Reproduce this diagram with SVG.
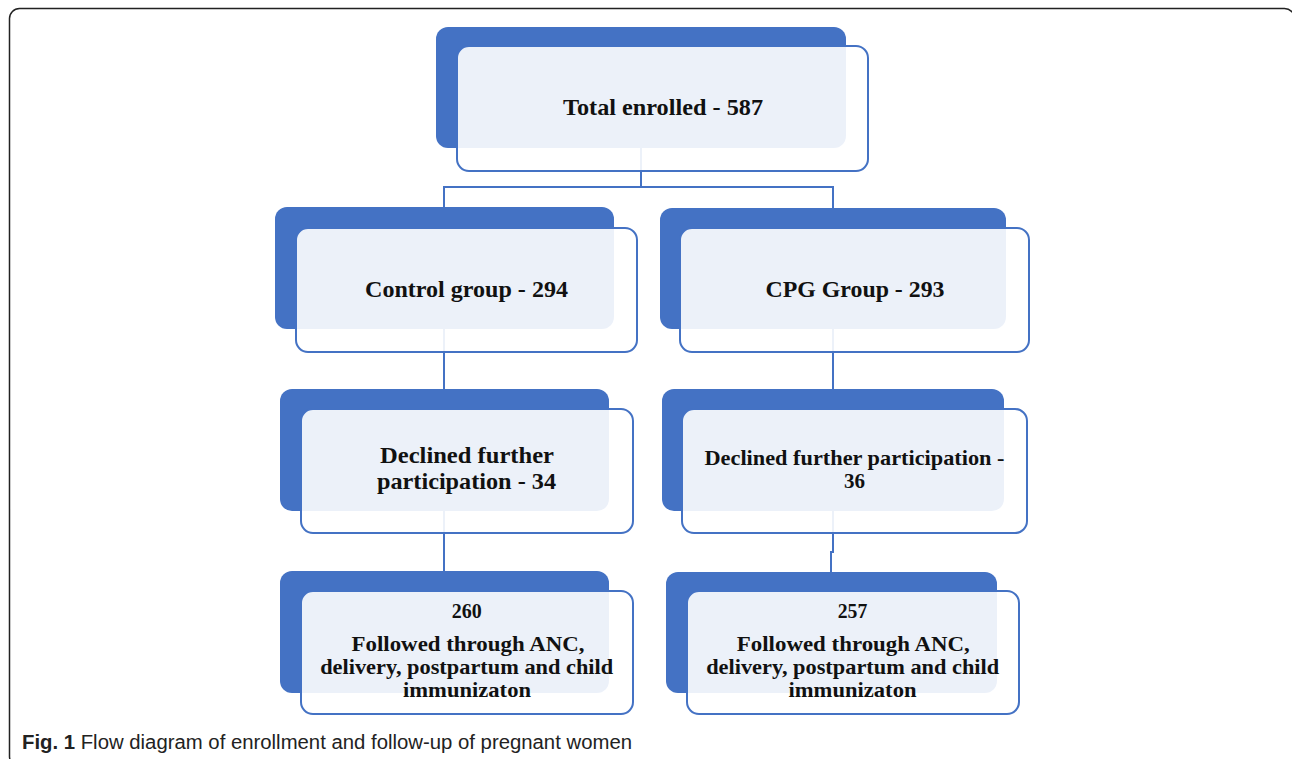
<svg xmlns="http://www.w3.org/2000/svg" width="1292" height="759" viewBox="0 0 1292 759">
<style>
.back{fill:#4472C4}
.front{fill:#ffffff;fill-opacity:0.9;stroke:#4472C4;stroke-width:2}
.lbl{font-family:"Liberation Serif","Times New Roman",serif;font-weight:bold;fill:#111;text-anchor:middle}
.conn{fill:none;stroke:#4472C4;stroke-width:2}
.cap{font-family:"Liberation Sans",Arial,sans-serif;font-size:19.5px;fill:#222}
</style>
<rect width="1292" height="759" fill="#fff"/>
<rect x="9.5" y="8.5" width="1285" height="758" rx="10" fill="none" stroke="#222" stroke-width="1.5"/>
<g id="connectors">
<path class="conn" d="M641 148 V187 M444 187 H833 M444 186 V208 M833 186 V208"/>
<path class="conn" d="M444 329 V389"/>
<path class="conn" d="M444 511 V571"/>
<path class="conn" d="M833 329 V389"/>
<path class="conn" d="M833 511 V552 H831 V572"/>
</g>
<g id="total">
<rect class="back" x="436" y="27" width="410" height="121" rx="12"/>
<rect class="front" x="457" y="46" width="411" height="125" rx="12"/>
<text class="lbl" x="663" y="115" font-size="24" textLength="200" lengthAdjust="spacingAndGlyphs">Total enrolled - 587</text>
</g>
<g id="control">
<rect class="back" x="275" y="207" width="339" height="122" rx="12"/>
<rect class="front" x="296" y="228" width="341" height="124" rx="12"/>
<text class="lbl" x="466.5" y="297" font-size="24" textLength="203" lengthAdjust="spacingAndGlyphs">Control group - 294</text>
</g>
<g id="cpg">
<rect class="back" x="660" y="208" width="346" height="121" rx="12"/>
<rect class="front" x="680" y="228" width="349" height="124" rx="12"/>
<text class="lbl" x="855" y="297" font-size="24" textLength="179" lengthAdjust="spacingAndGlyphs">CPG Group - 293</text>
</g>
<g id="declined34">
<rect class="back" x="280" y="389" width="329" height="122" rx="12"/>
<rect class="front" x="301" y="409" width="332" height="124" rx="12"/>
<text class="lbl" x="467" y="463" font-size="24" textLength="174" lengthAdjust="spacingAndGlyphs">Declined further</text>
<text class="lbl" x="466.5" y="489" font-size="24" textLength="179" lengthAdjust="spacingAndGlyphs">participation - 34</text>
</g>
<g id="declined36">
<rect class="back" x="662" y="389" width="342" height="122" rx="12"/>
<rect class="front" x="682" y="409" width="345" height="124" rx="12"/>
<text class="lbl" x="854.5" y="465" font-size="22" textLength="300" lengthAdjust="spacingAndGlyphs">Declined further participation -</text>
<text class="lbl" x="854.5" y="488" font-size="22" textLength="21" lengthAdjust="spacingAndGlyphs">36</text>
</g>
<g id="followed260">
<rect class="back" x="280" y="571" width="329" height="122" rx="12"/>
<rect class="front" x="301" y="591" width="332" height="123" rx="12"/>
<text class="lbl" x="466.7" y="618" font-size="21" textLength="30" lengthAdjust="spacingAndGlyphs">260</text>
<text class="lbl" x="468" y="651" font-size="21" textLength="233" lengthAdjust="spacingAndGlyphs">Followed through ANC,</text>
<text class="lbl" x="466.7" y="674" font-size="21" textLength="293" lengthAdjust="spacingAndGlyphs">delivery, postpartum and child</text>
<text class="lbl" x="467" y="697" font-size="21" textLength="128" lengthAdjust="spacingAndGlyphs">immunizaton</text>
</g>
<g id="followed257">
<rect class="back" x="666" y="572" width="331" height="121" rx="12"/>
<rect class="front" x="687" y="591" width="332" height="123" rx="12"/>
<text class="lbl" x="852.5" y="618" font-size="21" textLength="29.6" lengthAdjust="spacingAndGlyphs">257</text>
<text class="lbl" x="853.3" y="651" font-size="21" textLength="233" lengthAdjust="spacingAndGlyphs">Followed through ANC,</text>
<text class="lbl" x="852.7" y="674" font-size="21" textLength="293" lengthAdjust="spacingAndGlyphs">delivery, postpartum and child</text>
<text class="lbl" x="852.5" y="697" font-size="21" textLength="128" lengthAdjust="spacingAndGlyphs">immunizaton</text>
</g>
<text class="cap" x="22" y="749" textLength="610" lengthAdjust="spacingAndGlyphs"><tspan font-weight="bold">Fig. 1</tspan> Flow diagram of enrollment and follow-up of pregnant women</text>
</svg>
